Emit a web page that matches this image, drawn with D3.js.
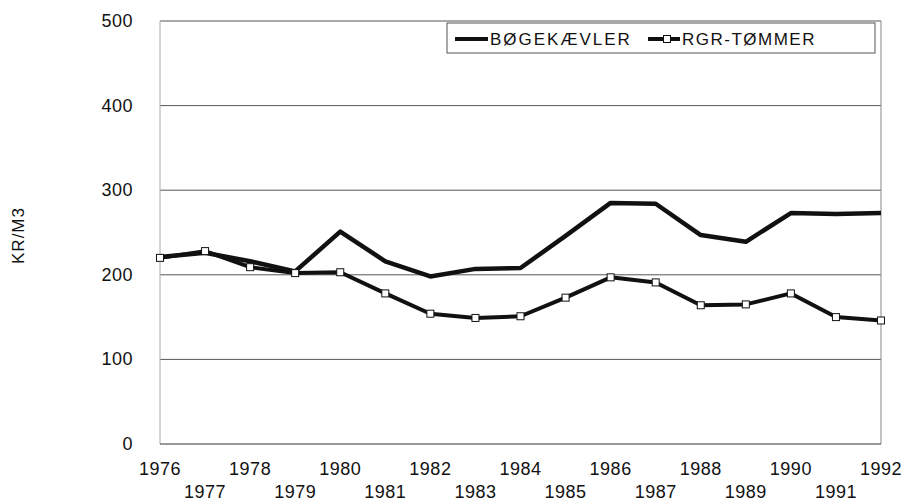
<!DOCTYPE html>
<html>
<head>
<meta charset="utf-8">
<script src="https://cdn.jsdelivr.net/npm/d3@7"></script>
<style>
  body { margin: 0; background: #fff; }
  text { font-family: Arial, "Liberation Sans", sans-serif; fill: #111; }
</style>
</head>
<body>
<div id="chart"></div>
<script>
// data
var years = [1976, 1977, 1978, 1979, 1980, 1981, 1982, 1983, 1984, 1985, 1986, 1987, 1988, 1989, 1990, 1991, 1992];
var bogekaevler = [221, 226, 216, 204, 251, 216, 198, 207, 208, 246, 285, 284, 247, 239, 273, 272, 273];
var rgrTommer = [220, 228, 209, 202, 203, 178, 154, 149, 151, 173, 197, 191, 164, 165, 178, 150, 146];
var yTicks = [0, 100, 200, 300, 400, 500];
var seriesNames = ["BØGEKÆVLER", "RGR-TØMMER"];

var margin = {top: 21, right: 28, bottom: 58, left: 160},
    width = 909 - margin.left - margin.right,
    height = 502 - margin.top - margin.bottom;

var svg = d3.select("#chart")
  .append("svg")
    .attr("width", 909)
    .attr("height", 502)
  .append("g")
    .attr("transform", "translate(" + margin.left + "," + margin.top + ")");

var x = d3.scaleLinear()
  .domain([1976, 1992])
  .range([0, width]);

var y = d3.scaleLinear()
  .domain([0, 500])
  .range([height, 0]);

// gridlines
svg.selectAll(".grid")
  .data(yTicks.slice(1))
  .enter()
  .append("line")
    .attr("x1", 0)
    .attr("x2", width)
    .attr("y1", function(d) { return y(d); })
    .attr("y2", function(d) { return y(d); })
    .attr("stroke", "#555")
    .attr("stroke-width", 1);

// plot sides
svg.append("line")
  .attr("x1", 0).attr("x2", 0)
  .attr("y1", 0).attr("y2", height)
  .attr("stroke", "#aaa");
svg.append("line")
  .attr("x1", width).attr("x2", width)
  .attr("y1", 0).attr("y2", height)
  .attr("stroke", "#888");
svg.append("line")
  .attr("x1", 0).attr("x2", width)
  .attr("y1", height).attr("y2", height)
  .attr("stroke", "#333");

// Y axis labels
svg.selectAll(".ylab")
  .data(yTicks)
  .enter()
  .append("text")
    .attr("x", -27)
    .attr("y", function(d) { return y(d) + 6; })
    .attr("text-anchor", "end")
    .style("font-size", "18px")
    .style("letter-spacing", "0.5px")
    .text(function(d) { return d; });

svg.append("text")
  .attr("transform", "translate(" + (-136) + "," + (height / 2 + 3) + ")rotate(-90)")
  .attr("text-anchor", "middle")
  .style("font-size", "17px")
  .style("letter-spacing", "1px")
  .text("KR/M3");

// X axis labels, staggered
svg.selectAll(".xlab")
  .data(years)
  .enter()
  .append("text")
    .attr("x", function(d) { return x(d); })
    .attr("y", function(d, i) { return i % 2 == 0 ? height + 31 : height + 54; })
    .attr("text-anchor", "middle")
    .style("font-size", "18px")
    .style("letter-spacing", "0.5px")
    .text(function(d) { return d; });

var line = d3.line()
  .x(function(d, i) { return x(years[i]); })
  .y(function(d) { return y(d); });

svg.append("path")
  .datum(rgrTommer)
  .attr("d", line)
  .attr("fill", "none")
  .attr("stroke", "#111")
  .attr("stroke-width", 4)
  .attr("stroke-linejoin", "round");

svg.append("path")
  .datum(bogekaevler)
  .attr("d", line)
  .attr("fill", "none")
  .attr("stroke", "#111")
  .attr("stroke-width", 4.5)
  .attr("stroke-linejoin", "round");

// markers
svg.selectAll(".mark")
  .data(rgrTommer)
  .enter()
  .append("rect")
    .attr("x", function(d, i) { return x(years[i]) - 3.5; })
    .attr("y", function(d) { return y(d) - 3.5; })
    .attr("width", 7)
    .attr("height", 7)
    .attr("fill", "#fff")
    .attr("stroke", "#111")
    .attr("stroke-width", 1);

// legend
var legend = svg.append("g").attr("transform", "translate(287,2)");
legend.append("rect")
  .attr("x", 0).attr("y", 0)
  .attr("width", 428).attr("height", 30)
  .attr("fill", "#fff")
  .attr("stroke", "#555");
legend.append("line")
  .attr("x1", 8).attr("x2", 41)
  .attr("y1", 16).attr("y2", 16)
  .attr("stroke", "#111").attr("stroke-width", 4);
legend.append("text")
  .attr("x", 43).attr("y", 22)
  .style("font-size", "17px")
  .style("letter-spacing", "2px")
  .text(seriesNames[0]);
legend.append("line")
  .attr("x1", 201).attr("x2", 233)
  .attr("y1", 16).attr("y2", 16)
  .attr("stroke", "#111").attr("stroke-width", 4);
legend.append("rect")
  .attr("x", 216.5).attr("y", 12.5)
  .attr("width", 7).attr("height", 7)
  .attr("fill", "#fff").attr("stroke", "#111");
legend.append("text")
  .attr("x", 235).attr("y", 22)
  .style("font-size", "17px")
  .style("letter-spacing", "1.5px")
  .text(seriesNames[1]);
</script>
</body>
</html>
